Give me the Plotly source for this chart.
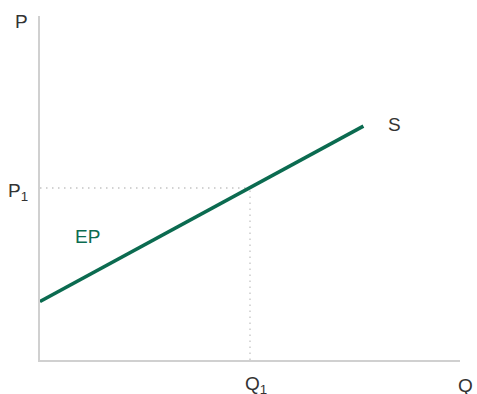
import plotly.graph_objects as go

# Data (economic units)
supply_q = [0, 7.7]
supply_p = [1.7, 6.8]
q1 = 5.0
p1 = 5.0
x_max = 10.0
y_max = 10.0

GREEN = "#0b6b50"
GRAY_TXT = "#333333"
FONT = "Liberation Sans, Arial, sans-serif"

fig = go.Figure()

# dotted guides
guide = dict(color="#c4c4c4", width=1.3, dash="1.5px,4.5px")
fig.add_trace(go.Scatter(x=[0, q1], y=[p1, p1], mode="lines", line=guide,
                         hoverinfo="skip", showlegend=False))
fig.add_trace(go.Scatter(x=[q1, q1], y=[0, p1], mode="lines", line=guide,
                         hoverinfo="skip", showlegend=False))
# supply curve
fig.add_trace(go.Scatter(x=supply_q, y=supply_p, mode="lines",
                         line=dict(color=GREEN, width=3.6),
                         hoverinfo="skip", showlegend=False))


def label(xd, yd, text, color=GRAY_TXT):
    fig.add_annotation(x=xd / x_max, y=yd / y_max, xref="paper", yref="paper",
                       xanchor="center", yanchor="middle",
                       text=text, showarrow=False,
                       font=dict(family=FONT, size=19, color=color))


label(-0.45, 9.85, "P")
label(-0.52, p1 - 0.12, "P<sub>1</sub>")
label(q1 + 0.14, -0.74, "Q<sub>1</sub>")
label(x_max + 0.12, -0.74, "Q")
label(supply_q[1] + 0.75, supply_p[1] + 0.06, "S")
label(1.12, 3.6, "EP", GREEN)

fig.update_xaxes(range=[0, x_max], showgrid=False, zeroline=False, showticklabels=False,
                 showline=True, linecolor="#d0d0d0", linewidth=2, ticks="")
fig.update_yaxes(range=[0, y_max], showgrid=False, zeroline=False, showticklabels=False,
                 showline=True, linecolor="#d0d0d0", linewidth=2, ticks="")

fig.update_layout(width=477, height=394,
                  margin=dict(l=40, r=17, t=16, b=34),
                  plot_bgcolor="white", paper_bgcolor="white")

fig.write_html("out.html",
               config={"displayModeBar": False},
               post_script="document.body.style.margin='0';document.body.style.overflow='hidden';")
